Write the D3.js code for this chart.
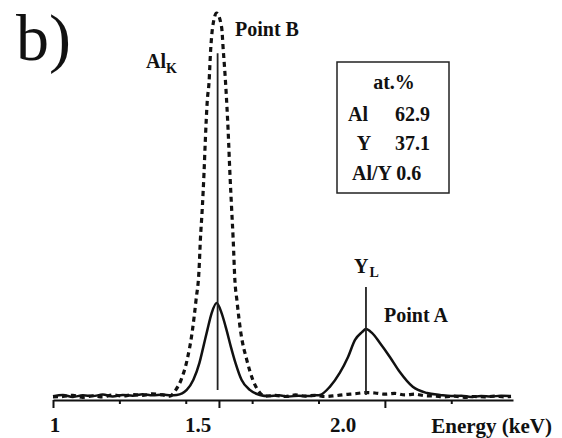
<!DOCTYPE html>
<html>
<head>
<meta charset="utf-8">
<script src="https://d3js.org/d3.v7.min.js"></script>
<style>
  body { margin: 0; background: #fff; }
</style>
</head>
<body>
<svg id="vis"></svg>
<script>
  // Point A spectrum (solid) - energy in keV, intensity in arbitrary units
  var pointAEnergy = [1.00, 1.03, 1.06, 1.09, 1.12, 1.15, 1.18, 1.21, 1.24, 1.27, 1.30, 1.33, 1.355,
    1.373, 1.403, 1.423, 1.441, 1.453, 1.465, 1.478, 1.493, 1.508, 1.523, 1.536, 1.550, 1.568, 1.593, 1.623,
    1.65, 1.68, 1.71, 1.74, 1.77, 1.79,
    1.804, 1.834, 1.864, 1.889, 1.910, 1.931, 1.943, 1.961, 1.985, 2.015, 2.045, 2.084, 2.127, 2.166,
    2.20, 2.23, 2.26, 2.29, 2.32, 2.35, 2.38];
  var pointAValue = [1.0, 1.3, 0.8, 1.2, 1.0, 1.4, 0.9, 1.3, 1.1, 1.5, 1.2, 1.4, 1.2,
    1.3, 2.6, 5.2, 9.5, 13.7, 18.0, 22.4, 25.0, 22.4, 18.0, 13.7, 9.5, 5.2, 2.6, 1.3,
    1.0, 1.2, 0.9, 1.1, 1.0, 1.2,
    1.3, 3.4, 7.0, 11.1, 15.5, 17.5, 18.3, 17.3, 14.7, 11.1, 7.2, 3.4, 1.8, 1.3,
    1.0, 1.1, 0.8, 1.0, 0.9, 1.1, 1.0];

  // Point B spectrum (dashed)
  var pointBEnergy = [1.00, 1.03, 1.06, 1.09, 1.12, 1.15, 1.18, 1.21, 1.24, 1.27, 1.30, 1.33,
    1.352, 1.370, 1.386, 1.404, 1.419, 1.431, 1.440, 1.444, 1.450, 1.455, 1.459, 1.465, 1.470, 1.475, 1.481, 1.493,
    1.508, 1.513, 1.520, 1.528, 1.533, 1.538, 1.543, 1.548, 1.554, 1.566, 1.584, 1.602, 1.617, 1.639,
    1.67, 1.70, 1.73, 1.76, 1.79, 1.82, 1.85, 1.88, 1.91, 1.94, 1.97, 2.00, 2.03, 2.06, 2.09, 2.12,
    2.15, 2.18, 2.21, 2.24, 2.27, 2.30, 2.33, 2.36, 2.38];
  var pointBValue = [0.8, 0.9, 1.2, 0.7, 1.1, 0.8, 1.3, 1.0, 1.4, 1.2, 1.6, 1.3,
    1.0, 2.6, 5.2, 10.3, 17.3, 25.8, 33.5, 41.2, 49.7, 58.5, 67.0, 77.3, 81.7, 90.2, 96.1, 99.7,
    96.1, 90.2, 81.7, 68.8, 58.5, 49.7, 41.2, 30.9, 25.8, 17.3, 10.3, 5.2, 2.6, 1.0,
    1.2, 0.9, 1.3, 1.0, 1.2, 0.9, 1.1, 1.4, 1.6, 1.9, 1.8, 1.5, 1.7, 1.3, 1.5, 1.1,
    1.0, 0.8, 1.0, 0.7, 0.9, 0.8, 1.0, 0.8, 0.9];

  // peak marker lines: [energy, bottom, top]
  var peakLines = [[1.496, 2.6, 89.4], [1.943, 1.3, 29.1]];

  // axis ticks and labels
  var majorTicks = [1, 1.5, 2.0];
  var minorTicks = [1.2, 1.4, 1.6, 1.8, 2.2];
  var tickLabels = ["1", "1.5", "2.0"];
  var tickLabelAt = [1.006, 1.437, 1.874];

  // composition table
  var tableRows = [["Al", "62.9"], ["Y", "37.1"]];

  var width = 562, height = 438;
  var serif = "Liberation Serif";

  var svg = d3.select("#vis")
    .attr("width", width)
    .attr("height", height);

  var x = d3.scaleLinear().domain([1, 2.386]).range([53, 513]);
  var y = d3.scaleLinear().domain([0, 100]).range([400, 12]);

  // axis
  var axisG = svg.append("g").attr("transform", "translate(0,400)");
  axisG.call(d3.axisBottom(x).tickValues(majorTicks).tickSize(8).tickSizeOuter(0).tickFormat(""));
  axisG.select(".domain").attr("stroke", "#111").attr("stroke-width", 2);
  axisG.selectAll(".tick line").attr("stroke", "#111").attr("stroke-width", 2);

  var minorG = svg.append("g").attr("transform", "translate(0,400)");
  minorG.call(d3.axisBottom(x).tickValues(minorTicks).tickSize(4).tickSizeOuter(0).tickFormat(""));
  minorG.select(".domain").remove();
  minorG.selectAll(".tick line").attr("stroke", "#111").attr("stroke-width", 2);

  function label(xp, yp, size, txt) {
    return svg.append("text")
      .attr("x", xp)
      .attr("y", yp)
      .style("font-family", serif)
      .attr("font-size", size)
      .attr("font-weight", "bold")
      .attr("fill", "#111")
      .text(txt);
  }

  svg.selectAll(".ticklabel")
    .data(tickLabels)
    .enter().append("text")
    .attr("class", "ticklabel")
    .attr("x", function(d, i){ return x(tickLabelAt[i]) })
    .attr("y", 432)
    .attr("text-anchor", "middle")
    .style("font-family", serif)
    .attr("font-size", 21)
    .attr("font-weight", "bold")
    .attr("fill", "#111")
    .text(function(d){ return d });

  label(552, 433, 21, "Energy (keV)").attr("text-anchor", "end");

  // spectra
  var line = d3.line()
    .x(function(d){ return x(d[0]) })
    .y(function(d){ return y(d[1]) })
    .curve(d3.curveMonotoneX);

  var dataB = pointBEnergy.map(function(e, i){ return [e, pointBValue[i]] });
  var dataA = pointAEnergy.map(function(e, i){ return [e, pointAValue[i]] });

  svg.append("path")
    .attr("d", line(dataB))
    .attr("fill", "none")
    .attr("stroke", "#111")
    .attr("stroke-width", 3.2)
    .attr("stroke-dasharray", "5,4");

  svg.append("path")
    .attr("d", line(dataA))
    .attr("fill", "none")
    .attr("stroke", "#111")
    .attr("stroke-width", 2.5)
    .attr("stroke-linejoin", "round");

  // peak marker lines
  svg.selectAll(".peakline")
    .data(peakLines)
    .enter().append("line")
    .attr("class", "peakline")
    .attr("x1", function(d){ return x(d[0]) })
    .attr("x2", function(d){ return x(d[0]) })
    .attr("y1", function(d){ return y(d[1]) })
    .attr("y2", function(d){ return y(d[2]) })
    .attr("stroke", "#222")
    .attr("stroke-width", 1.8);

  // labels
  label(16, 60, 66, "b)").attr("font-weight", "normal");
  label(235, 36, 20, "Point B");

  var alk = label(146, 68, 20, "");
  alk.append("tspan").text("Al");
  alk.append("tspan").attr("font-size", 14).attr("dy", 5).text("K");

  var yl = label(354, 273, 20, "");
  yl.append("tspan").text("Y");
  yl.append("tspan").attr("font-size", 14).attr("dy", 4).attr("dx", 1).text("L");

  label(384, 322, 20, "Point A");

  // composition box
  svg.append("rect")
    .attr("x", 337)
    .attr("y", 62)
    .attr("width", 112)
    .attr("height", 131)
    .attr("fill", "none")
    .attr("stroke", "#222")
    .attr("stroke-width", 1.5);

  label(394, 89, 20, "at.%").attr("text-anchor", "middle");

  tableRows.forEach(function(r, i){
    label(i == 0 ? 348 : 364, 121 + i * 29, 20, r[0])
      .attr("text-anchor", i == 0 ? "start" : "middle");
    label(395, 121 + i * 29, 20, r[1]);
  });

  label(352, 180, 20, "Al/Y 0.6");
</script>
</body>
</html>
